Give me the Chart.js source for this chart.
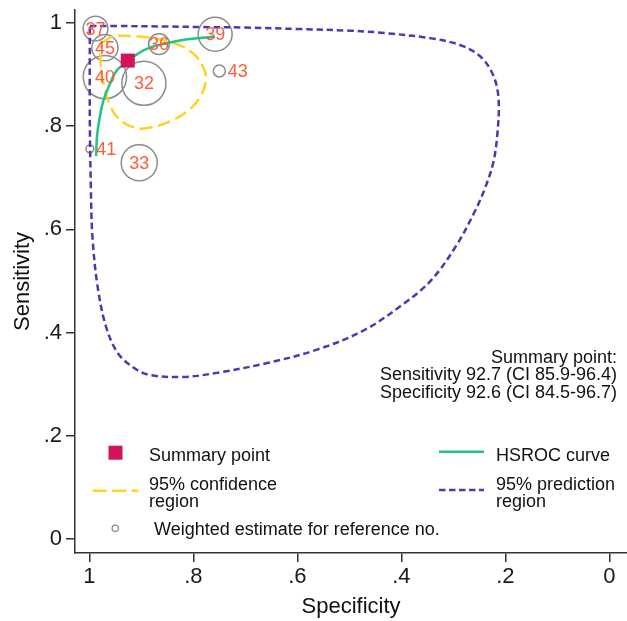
<!DOCTYPE html>
<html>
<head>
<meta charset="utf-8">
<script src="https://cdn.jsdelivr.net/npm/chart.js@4.4.1/dist/chart.umd.min.js"></script>
<style>
  html, body { margin: 0; padding: 0; background: #fff; }
  canvas { display: block; }
</style>
</head>
<body>
<canvas id="myChart" width="627" height="621"></canvas>
<script>
// studies (reference no., specificity, sensitivity, weight)
const studyRefs = ['37', '45', '36', '39', '40', '32', '43', '41', '33'];
const studySpec = [0.988, 0.970, 0.866, 0.758, 0.970, 0.895, 0.750, 0.999, 0.904];
const studySens = [0.989, 0.952, 0.959, 0.978, 0.895, 0.883, 0.907, 0.756, 0.729];
const studyWeight = [17, 19, 12, 32, 52, 54, 4, 1.7, 36];

// summary point, in percent: estimate, CI low, CI high
const summarySens = [92.7, 85.9, 96.4];
const summarySpec = [92.6, 84.5, 96.7];

// HSROC curve
const hsrocSpec = [0.987, 0.985, 0.981, 0.973, 0.961, 0.948, 0.927, 0.907, 0.884, 0.845, 0.807, 0.758];
const hsrocSens = [0.742, 0.782, 0.811, 0.849, 0.880, 0.907, 0.925, 0.940, 0.952, 0.962, 0.969, 0.973];

// 95% confidence region
const confSpec = [0.977, 0.957, 0.932, 0.888, 0.841, 0.803, 0.781, 0.776, 0.787, 0.810, 0.841, 0.880, 0.913, 0.946, 0.961, 0.971, 0.977, 0.979, 0.977];
const confSens = [0.961, 0.973, 0.975, 0.972, 0.962, 0.943, 0.914, 0.888, 0.856, 0.830, 0.811, 0.798, 0.797, 0.817, 0.843, 0.875, 0.907, 0.940, 0.961];

// 95% prediction region
const predSpec = [0.999, 0.950, 0.850, 0.787, 0.700, 0.594, 0.500, 0.439, 0.342, 0.284, 0.246, 0.223, 0.213, 0.215, 0.223, 0.239, 0.259, 0.294, 0.342, 0.394, 0.471, 0.562, 0.658, 0.755, 0.820, 0.884, 0.913, 0.945, 0.968, 0.984, 0.994, 0.997, 0.999, 0.999];
const predSens = [0.994, 0.994, 0.993, 0.992, 0.991, 0.988, 0.985, 0.981, 0.970, 0.956, 0.933, 0.898, 0.853, 0.788, 0.730, 0.680, 0.634, 0.569, 0.502, 0.457, 0.405, 0.367, 0.341, 0.322, 0.314, 0.318, 0.331, 0.360, 0.412, 0.489, 0.586, 0.682, 0.811, 0.994];

// axis ticks
const tickValues = [0, 0.2, 0.4, 0.6, 0.8, 1];
const tickLabels = ['0', '.2', '.4', '.6', '.8', '1'];

const FONT = '"Liberation Sans", Arial, Helvetica, sans-serif';
const C_SUMMARY = '#d3135b';
const C_HSROC = '#1fc486';
const C_CONF = '#ffd224';
const C_PRED = '#5634ae';
const C_STUDY = '#8c8c8c';
const C_LABEL = '#ff5c39';
const C_AXIS = '#333333';

const toPoints = (xs, ys) => xs.map((x, i) => ({ x: x, y: ys[i] }));

const studyPoints = studySpec.map((s, i) => ({
  x: s, y: studySens[i], r: Math.sqrt(studyWeight[i]) * 3, ref: studyRefs[i]
}));

// nummer referensi di tiap lingkaran
const studyLabels = {
  id: 'studyLabels',
  afterDatasetsDraw(chart) {
    const ctx = chart.ctx;
    const meta = chart.getDatasetMeta(4);
    ctx.save();
    ctx.font = '18px ' + FONT;
    ctx.fillStyle = C_LABEL;
    ctx.textBaseline = 'middle';
    meta.data.forEach((el, i) => {
      const p = studyPoints[i];
      if (p.r < 8) {
        ctx.textAlign = 'left';
        ctx.fillText(p.ref, el.x + p.r + 2.5, el.y + 1);
      } else {
        ctx.textAlign = 'center';
        ctx.fillText(p.ref, el.x, el.y + 1);
      }
    });
    ctx.restore();
  }
};

// legenda + teks summary point
const legendBox = {
  id: 'legendBox',
  afterDraw(chart) {
    const ctx = chart.ctx;
    ctx.save();
    ctx.font = '18px ' + FONT;
    ctx.fillStyle = '#111';
    ctx.textAlign = 'right';
    ctx.textBaseline = 'alphabetic';
    ctx.fillText('Summary point:', 617, 362.5);
    ctx.fillText(`Sensitivity ${summarySens[0]} (CI ${summarySens[1]}-${summarySens[2]})`, 617, 380);
    ctx.fillText(`Specificity ${summarySpec[0]} (CI ${summarySpec[1]}-${summarySpec[2]})`, 617, 397.5);

    ctx.textAlign = 'left';
    ctx.fillText('Summary point', 149, 460.5);
    ctx.fillText('95% confidence', 149, 489.5);
    ctx.fillText('region', 149, 507);
    ctx.fillText('Weighted estimate for reference no.', 154, 535);
    ctx.fillText('HSROC curve', 496, 460.5);
    ctx.fillText('95% prediction', 496, 489.5);
    ctx.fillText('region', 496, 507);

    ctx.fillStyle = C_SUMMARY;
    ctx.fillRect(108.5, 445.7, 14, 14);

    ctx.lineWidth = 2.5;
    ctx.strokeStyle = C_CONF;
    ctx.setLineDash([14, 5.5]);
    ctx.beginPath(); ctx.moveTo(92.7, 490.7); ctx.lineTo(138.3, 490.7); ctx.stroke();

    ctx.strokeStyle = C_PRED;
    ctx.setLineDash([6.5, 3.5]);
    ctx.beginPath(); ctx.moveTo(439, 490); ctx.lineTo(484, 490); ctx.stroke();

    ctx.strokeStyle = C_HSROC;
    ctx.setLineDash([]);
    ctx.beginPath(); ctx.moveTo(439, 451.7); ctx.lineTo(484, 451.7); ctx.stroke();

    ctx.strokeStyle = C_STUDY;
    ctx.lineWidth = 1.3;
    ctx.beginPath(); ctx.arc(115.3, 528.3, 3.2, 0, Math.PI * 2); ctx.stroke();
    ctx.restore();
  }
};

// buang padding otomatis biar area plot pas
const noPad = (s) => {
  s.paddingTop = 0; s.paddingBottom = 0; s.paddingLeft = 0; s.paddingRight = 0;
};

const axisCommon = {
  type: 'linear',
  afterBuildTicks: (scale) => { scale.ticks = tickValues.map(v => ({ value: v })); },
  ticks: {
    font: { family: FONT, size: 22 },
    color: '#1a1a1a',
    callback: (v) => tickLabels[tickValues.indexOf(Math.round(v * 10) / 10)]
  },
  grid: { drawOnChartArea: false, drawTicks: true, tickLength: 9, color: C_AXIS, lineWidth: 1.5 },
  border: { display: true, color: C_AXIS, width: 1.5 }
};

const ctx = document.getElementById('myChart').getContext('2d');

new Chart(ctx, {
  type: 'scatter',
  data: {
    datasets: [
      {
        label: 'Summary point',
        data: [{ x: summarySpec[0] / 100, y: summarySens[0] / 100 }],
        pointStyle: 'rect',
        pointRadius: 9.9,
        backgroundColor: C_SUMMARY,
        borderColor: C_SUMMARY,
        borderWidth: 0,
        order: 0
      },
      {
        label: 'HSROC curve',
        data: toPoints(hsrocSpec, hsrocSens),
        showLine: true,
        borderColor: C_HSROC,
        borderWidth: 2.5,
        pointRadius: 0,
        tension: 0.4,
        fill: false,
        order: 1
      },
      {
        label: '95% confidence region',
        data: toPoints(confSpec, confSens),
        showLine: true,
        borderColor: C_CONF,
        borderWidth: 2.5,
        borderDash: [13, 5.5],
        pointRadius: 0,
        tension: 0.4,
        fill: false,
        order: 2
      },
      {
        label: '95% prediction region',
        data: toPoints(predSpec, predSens),
        showLine: true,
        borderColor: C_PRED,
        borderWidth: 2.5,
        borderDash: [6.5, 3.8],
        pointRadius: 0,
        tension: 0.35,
        fill: false,
        order: 3
      },
      {
        type: 'bubble',
        label: 'Weighted estimate for reference no.',
        data: studyPoints,
        backgroundColor: 'rgba(0,0,0,0)',
        borderColor: C_STUDY,
        borderWidth: 1.5,
        clip: false,
        order: 4
      }
    ]
  },
  options: {
    responsive: false,
    animation: false,
    events: [],
    devicePixelRatio: 1,
    layout: { autoPadding: false, padding: { top: 10, right: 0, left: 0, bottom: 0 } },
    plugins: { legend: { display: false }, tooltip: { enabled: false } },
    scales: {
      x: Object.assign({}, axisCommon, {
        reverse: true,
        min: -0.034,
        max: 1.0275,
        ticks: Object.assign({}, axisCommon.ticks, { padding: 2, maxRotation: 0 }),
        title: { display: true, text: 'Specificity', font: { family: FONT, size: 22 }, color: '#111', padding: { top: 0, bottom: 1 } },
        afterFit: (s) => { s.height = 68; noPad(s); }
      }),
      y: Object.assign({}, axisCommon, {
        min: -0.027,
        max: 1.025,
        ticks: Object.assign({}, axisCommon.ticks, { padding: 4 }),
        title: { display: true, text: 'Sensitivity', font: { family: FONT, size: 22 }, color: '#111', padding: { top: 10, bottom: 0 } },
        afterFit: (s) => { s.width = 75; noPad(s); }
      })
    }
  },
  plugins: [studyLabels, legendBox]
});
</script>
</body>
</html>
